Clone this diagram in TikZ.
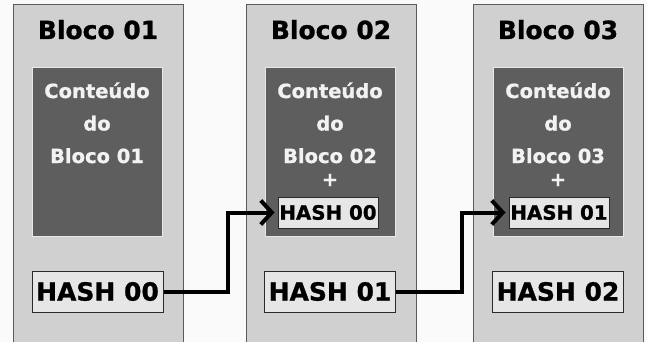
\documentclass[tikz,border=0pt]{standalone}
\usepackage{fontspec}
\setmainfont{DejaVu Sans}[BoldFeatures={FakeBold=1}]
\usetikzlibrary{arrows.meta}

\definecolor{pagebg}{HTML}{FAFAFA}
\definecolor{blockfill}{HTML}{D0D0D0}
\definecolor{blockline}{HTML}{5A5A5A}
\definecolor{innerfill}{HTML}{5E5E5E}
\definecolor{innerline}{HTML}{E8E8E8}
\definecolor{hashfill}{HTML}{E6E6E6}
\definecolor{hashline}{HTML}{2A2A2A}

\tikzset{
  blockbox/.style={draw=blockline, line width=1pt, fill=blockfill},
  innerbox/.style={draw=innerline, line width=0.8pt, fill=innerfill},
  title/.style={anchor=base, inner sep=0pt, text=black,
    font=\bfseries\fontsize{25}{30}\selectfont},
  content/.style={anchor=base, inner sep=0pt, text=white!95!black,
    font=\bfseries\fontsize{19.5}{23}\selectfont},
  plus/.style={anchor=center, inner sep=0pt, text=white!95!black,
    font=\bfseries\fontsize{19.5}{23}\selectfont},
  bighash/.style={draw=hashline, line width=1pt, fill=hashfill, inner sep=0pt,
    minimum width=131pt, minimum height=41pt, text=black,
    font=\bfseries\fontsize{25}{30}\selectfont},
  smallhash/.style={draw=hashline, line width=1pt, fill=hashfill, inner sep=0pt,
    minimum width=100pt, minimum height=31pt, text=black,
    font=\bfseries\fontsize{19.8}{23}\selectfont},
  link/.style={line width=4pt, black, line join=miter,
    -{Straight Barb[length=11pt, width=24pt, line width=4pt]}, shorten >=3pt},
}

\begin{document}
\begin{tikzpicture}[x=1pt, y=-1pt]
  % canvas
  \fill[pagebg] (0,0) rectangle (647,342);
  \useasboundingbox (0,0) rectangle (647,342);

  % the three block columns (they run past the lower edge)
  \begin{scope}
    \clip (0,0) rectangle (647,342);
    \draw[blockbox] (13,5) rectangle (183,350);
    \draw[blockbox] (246,5) rectangle (416,350);
    \draw[blockbox] (473,5) rectangle (643,350);
  \end{scope}

  % block titles
  \node[title] (t1) at (98,39) {Bloco 01};
  \node[title] (t2) at (331,39) {Bloco 02};
  \node[title] (t3) at (558,39) {Bloco 03};

  % content panels
  \draw[innerbox] (32,67) rectangle (162,236);
  \draw[innerbox] (265,67) rectangle (395,236);
  \draw[innerbox] (493,67) rectangle (623,236);

  % block 01 content
  \node[content] (c1a) at (97,98) {Conteúdo};
  \node[content] (c1b) at (97,130.5) {do};
  \node[content] (c1c) at (97,163) {Bloco 01};

  % block 02 content
  \node[content] (c2a) at (330,98) {Conteúdo};
  \node[content] (c2b) at (330,130.5) {do};
  \node[content] (c2c) at (330,163) {Bloco 02};
  \node[plus] (c2d) at (330,180) {+};
  \node[smallhash] (s00) at (328,212.5) {HASH 00};

  % block 03 content
  \node[content] (c3a) at (558,98) {Conteúdo};
  \node[content] (c3b) at (558,130.5) {do};
  \node[content] (c3c) at (558,163) {Bloco 03};
  \node[plus] (c3d) at (558,180) {+};
  \node[smallhash] (s01) at (559,212.5) {HASH 01};

  % hashes of each block
  \node[bighash] (h00) at (97.5,291.5) {HASH 00};
  \node[bighash] (h01) at (330,291.5) {HASH 01};
  \node[bighash] (h02) at (558,291.5) {HASH 02};

  % chaining links
  \coordinate (k1) at (228,0);
  \coordinate (k2) at (462,0);
  \draw[link] (h00.east) -| (k1 |- s00.west) -- (s00.west);
  \draw[link] (h01.east) -| (k2 |- s01.west) -- (s01.west);
\end{tikzpicture}
\end{document}
